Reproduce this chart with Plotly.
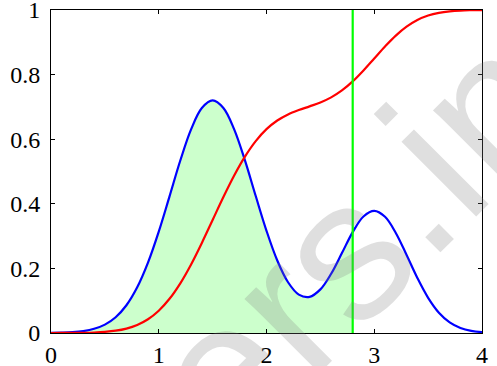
import plotly.graph_objects as go

# x grid (values at 0.1 steps)
x_vals = [0.0, 0.1, 0.2, 0.3, 0.4, 0.5, 0.6, 0.7, 0.8, 0.9,
          1.0, 1.1, 1.2, 1.3, 1.4, 1.5, 1.6, 1.7, 1.8, 1.9,
          2.0, 2.1, 2.2, 2.3, 2.4, 2.5, 2.6, 2.7, 2.8, 2.9,
          3.0, 3.1, 3.2, 3.3, 3.4, 3.5, 3.6, 3.7, 3.8, 3.9, 4.0]

# blue curve (density)
pdf_vals = [0.0004, 0.0011, 0.0026, 0.0060, 0.0130, 0.0260, 0.0489, 0.0859, 0.1414, 0.2178,
            0.3138, 0.4231, 0.5340, 0.6304, 0.6965, 0.7200, 0.6965, 0.6305, 0.5343, 0.4240,
            0.3164, 0.2245, 0.1571, 0.1189, 0.1119, 0.1350, 0.1835, 0.2475, 0.3124, 0.3608,
            0.3784, 0.3599, 0.3098, 0.2415, 0.1705, 0.1090, 0.0630, 0.0330, 0.0157, 0.0067, 0.0026]

# red curve (cumulative)
cdf_vals = [0.0000, 0.0001, 0.0003, 0.0007, 0.0016, 0.0035, 0.0071, 0.0137, 0.0249, 0.0427,
            0.0691, 0.1059, 0.1538, 0.2122, 0.2788, 0.3500, 0.4212, 0.4878, 0.5462, 0.5942,
            0.6311, 0.6580, 0.6768, 0.6904, 0.7017, 0.7137, 0.7295, 0.7509, 0.7789, 0.8128,
            0.8500, 0.8871, 0.9208, 0.9484, 0.9690, 0.9828, 0.9912, 0.9959, 0.9983, 0.9993, 0.9998]

# vertical marker position
x_cut = 2.8

x_ticks = [0, 1, 2, 3, 4]
y_ticks = [0, 0.2, 0.4, 0.6, 0.8, 1]
y_tick_text = ["0", "0.2", "0.4", "0.6", "0.8", "1"]

watermark = "ers.in"

fill_x = [x for x in x_vals if x <= x_cut + 1e-9]
fill_y = pdf_vals[:len(fill_x)]

fig = go.Figure()
fig.add_trace(go.Scatter(x=fill_x, y=fill_y, mode="lines", fill="tozeroy",
                         fillcolor="#ccffcc", line=dict(width=0, shape="spline"),
                         hoverinfo="skip", showlegend=False))
fig.add_trace(go.Scatter(x=x_vals, y=pdf_vals, mode="lines",
                         line=dict(color="#0000ff", width=2.2, shape="spline"),
                         showlegend=False))
fig.add_trace(go.Scatter(x=x_vals, y=cdf_vals, mode="lines",
                         line=dict(color="#ff0000", width=2.2, shape="spline"),
                         showlegend=False))
fig.add_trace(go.Scatter(x=[x_cut, x_cut], y=[0, 1], mode="lines",
                         line=dict(color="#00ff00", width=2.2),
                         showlegend=False))

serif = "Liberation Serif, Times New Roman, Times, serif"
axis_common = dict(showgrid=False, zeroline=False, showline=True, linecolor="black",
                   linewidth=1, mirror="allticks", ticks="inside", ticklen=4,
                   tickcolor="black", tickwidth=1, automargin=False,
                   ticklabeloverflow="allow",
                   tickfont=dict(family=serif, size=24, color="black"))

fig.update_xaxes(range=[0, 4], tickvals=x_ticks, ticktext=[str(t) for t in x_ticks],
                 ticklabelstandoff=0, **axis_common)
fig.update_yaxes(range=[0, 1], tickvals=y_ticks, ticktext=y_tick_text,
                 ticklabelstandoff=5, **axis_common)

fig.add_annotation(text=watermark, xref="paper", yref="paper", x=0.705, y=0.29,
                   xanchor="center", yanchor="middle", showarrow=False, textangle=-45,
                   font=dict(family="Liberation Sans", size=200,
                             color="rgba(128,128,128,0.25)"))

fig.update_layout(width=497, height=366, autosize=False,
                  margin=dict(l=51, r=15, t=10, b=33),
                  paper_bgcolor="white", plot_bgcolor="white")

fig.write_html("out.html", config={"displayModeBar": False},
               post_script="document.body.style.margin='0';")
